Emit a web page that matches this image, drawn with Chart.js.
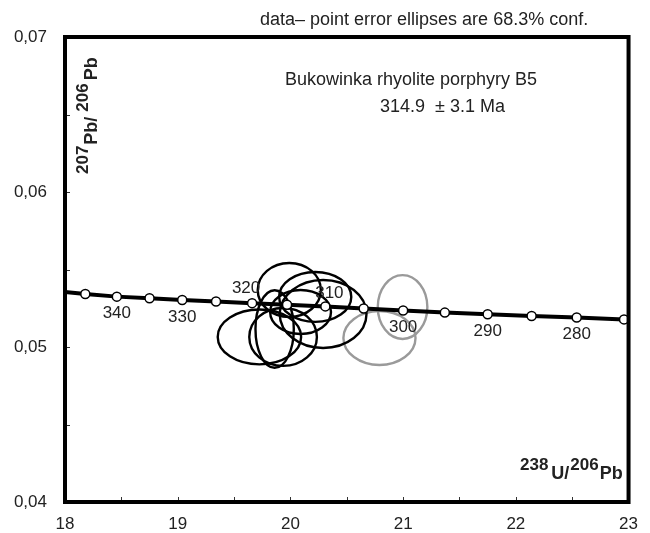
<!DOCTYPE html>
<html>
<head>
<meta charset="utf-8">
<script src="https://cdn.jsdelivr.net/npm/chart.js@4/dist/chart.umd.min.js"></script>
<style>
  html, body { margin: 0; padding: 0; background: #fff; }
  #wrap { width: 650px; height: 533px; position: relative; }
</style>
</head>
<body>
<div id="wrap"><canvas id="tw"></canvas></div>
<script>
// Concordia (Tera-Wasserburg)
const concX   = [18.00, 18.18, 18.46, 18.75, 19.04, 19.34, 19.66, 19.97, 20.31, 20.65, 21.00, 21.37, 21.75, 22.14, 22.54, 22.96, 23.00];
const concY   = [0.05355, 0.05342, 0.05325, 0.05314, 0.05303, 0.05293, 0.05283, 0.05273, 0.05262, 0.05248, 0.05235, 0.05222, 0.05211, 0.05200, 0.05190, 0.05178, 0.05177];
const concMark = [false, true, true, true, true, true, true, true, true, true, true, true, true, true, true, true, false];
const concAge = ['', '', '340', '', '330', '', '320', '', '310', '', '300', '', '290', '', '280', '', ''];

// data-point error ellipses (centre, half-width in x, half-height in y, tilt in deg)
const ellX   = [19.99, 20.22, 20.29, 19.725, 19.935, 19.86, 20.09];
const ellY   = [0.05368, 0.05323, 0.05213, 0.05065, 0.05065, 0.05116, 0.05226];
const ellSx  = [0.28, 0.32, 0.385, 0.37, 0.30, 0.17, 0.27];
const ellSy  = [0.00174, 0.00161, 0.00219, 0.00177, 0.00187, 0.0025, 0.00142];
const ellRot = [0, 0, 0, 0, 0, 0, 0];

// ellipses left out of the age (grey)
const excX   = [20.995, 20.79];
const excY   = [0.05258, 0.05058];
const excSx  = [0.22, 0.32];
const excSy  = [0.00206, 0.00174];
const excRot = [0, 0];

const xTicks = [18, 19, 20, 21, 22, 23];
const yTicks = [0.04, 0.05, 0.06, 0.07];

const FONT = "'Liberation Sans', Arial, sans-serif";
const TXT = '#222';

const pluginTW = {
  id: 'tw',
  beforeDatasetsDraw(chart) {
    const { ctx, scales: { x, y } } = chart;
    const dib = (xs, ys, sx, sy, rot, col) => {
      ctx.save();
      ctx.strokeStyle = col;
      ctx.lineWidth = 2.4;
      xs.forEach((cxv, i) => {
        const cx = x.getPixelForValue(cxv);
        const cy = y.getPixelForValue(ys[i]);
        const rx = x.getPixelForValue(cxv + sx[i]) - cx;
        const ry = cy - y.getPixelForValue(ys[i] + sy[i]);
        ctx.beginPath();
        ctx.ellipse(cx, cy, rx, ry, rot[i] * Math.PI / 180, 0, Math.PI * 2);
        ctx.stroke();
      });
      ctx.restore();
    };
    dib(excX, excY, excSx, excSy, excRot, '#9a9a9a');
    dib(ellX, ellY, ellSx, ellSy, ellRot, '#000');
  },
  afterDraw(chart) {
    const { ctx, chartArea: a, scales: { x, y } } = chart;
    ctx.save();

    // marques petites cap endins
    ctx.strokeStyle = '#333';
    ctx.lineWidth = 1;
    for (let v = 18.5; v < 23; v += 0.5) {
      const px = Math.round(x.getPixelForValue(v)) + 0.5;
      ctx.beginPath(); ctx.moveTo(px, a.bottom); ctx.lineTo(px, a.bottom - 5); ctx.stroke();
    }
    for (let v = 0.045; v < 0.0699; v += 0.005) {
      const py = Math.round(y.getPixelForValue(v)) + 0.5;
      ctx.beginPath(); ctx.moveTo(a.left, py); ctx.lineTo(a.left + 5, py); ctx.stroke();
    }

    // marc
    ctx.strokeStyle = '#000';
    ctx.lineWidth = 4;
    ctx.strokeRect(a.left, a.top, a.right - a.left, a.bottom - a.top);

    // etiquetes d'edat a la concòrdia
    ctx.fillStyle = TXT;
    ctx.font = '17px ' + FONT;
    ctx.textAlign = 'center';
    ctx.textBaseline = 'middle';
    const amunt = { '320': [-6, -15], '310': [4, -13] };
    concAge.forEach((t, i) => {
      if (!t) return;
      const px = x.getPixelForValue(concX[i]);
      const py = y.getPixelForValue(concY[i]);
      const off = amunt[t] || [0, 17];
      ctx.fillText(t, px + off[0], py + off[1]);
    });

    // textos
    ctx.font = '18px ' + FONT;
    ctx.textAlign = 'left';
    ctx.fillText('data\u2013 point error ellipses are 68.3% conf.', 260, 20);
    ctx.fillText('Bukowinka rhyolite porphyry B5', 285, 80);
    ctx.fillText('314.9  \u00b1 3.1 Ma', 380, 107);

    // títol eix Y (girat)
    const trossos = (parts) => {
      let p = 0;
      parts.forEach(([t, sz, dy, gap]) => {
        ctx.font = 'bold ' + sz + 'px ' + FONT;
        ctx.fillText(t, p, dy);
        p += ctx.measureText(t).width + gap;
      });
    };
    ctx.textBaseline = 'alphabetic';
    ctx.save();
    ctx.translate(88, 174);
    ctx.rotate(-Math.PI / 2);
    trossos([['207', 17, 0, 1], ['Pb/', 18, 9, 5], ['206', 17, 0, 3], ['Pb', 18, 9, 0]]);
    ctx.restore();

    // títol eix X
    ctx.save();
    ctx.translate(520, 479);
    trossos([['238', 17, -9, 3], ['U/', 18, 0, 1], ['206', 17, -9, 1], ['Pb', 18, 0, 0]]);
    ctx.restore();

    ctx.restore();
  }
};

new Chart(document.getElementById('tw').getContext('2d'), {
  type: 'scatter',
  data: {
    datasets: [{
      label: 'Concordia',
      data: concX.map((v, i) => ({ x: v, y: concY[i] })),
      showLine: true,
      borderColor: '#000',
      borderWidth: 4,
      pointRadius: concMark.map(m => m ? 4.5 : 0),
      pointBackgroundColor: '#fff',
      pointBorderColor: '#000',
      pointBorderWidth: 1.5,
      tension: 0,
    }]
  },
  options: {
    animation: false,
    responsive: true,
    maintainAspectRatio: false,
    layout: { padding: { top: 37, right: 14, left: 0, bottom: 0 } },
    plugins: { legend: { display: false }, tooltip: { enabled: false } },
    scales: {
      x: {
        type: 'linear',
        min: 18, max: 23,
        afterFit: s => { s.height = 31; },
        afterBuildTicks: s => { s.ticks = xTicks.map(v => ({ value: v })); },
        ticks: {
          color: TXT, padding: 12,
          font: { size: 17, family: FONT },
          callback: v => v,
        },
        grid: { display: false, drawTicks: false },
        border: { display: false },
      },
      y: {
        type: 'linear',
        min: 0.04, max: 0.07,
        afterFit: s => { s.width = 65; },
        afterBuildTicks: s => { s.ticks = yTicks.map(v => ({ value: v })); },
        ticks: {
          color: TXT, padding: 18,
          font: { size: 17, family: FONT },
          callback: v => v.toFixed(2).replace('.', ','),
        },
        grid: { display: false, drawTicks: false },
        border: { display: false },
      }
    }
  },
  plugins: [pluginTW]
});
</script>
</body>
</html>
